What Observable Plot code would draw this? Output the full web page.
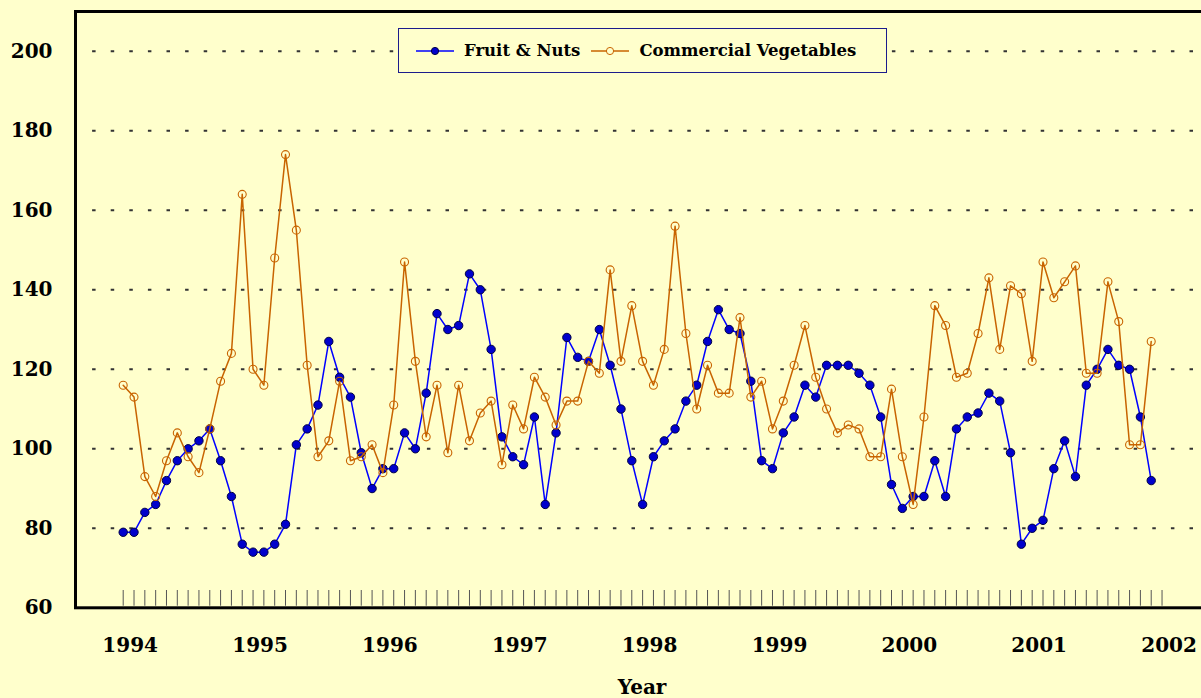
<!DOCTYPE html>
<html>
<head>
<meta charset="utf-8">
<script src="https://cdn.jsdelivr.net/npm/d3@7"></script>
<script src="https://cdn.jsdelivr.net/npm/@observablehq/plot@0.6"></script>
<style>
  html, body { margin: 0; padding: 0; background: #FFFFCC; }
  #wrap { position: relative; width: 1201px; height: 698px; overflow: hidden; }
  #legend {
    position: absolute; left: 398px; top: 28px; width: 489px; height: 45px;
    box-sizing: border-box; border: 1.5px solid #1c1c8c; background: #FFFFCC;
    display: flex; align-items: center; padding-left: 17px;
    font-family: "DejaVu Serif", serif; font-weight: bold; font-size: 16.5px; color: #000;
  }
  #legend svg { display: block; }
  #legend .sw { margin-right: 10px; }
  #legend .lab { margin-right: 11px; white-space: nowrap; }
</style>
</head>
<body>
<div id="wrap">
  <div id="chart"></div>
  <div id="legend">
    <svg class="sw" width="38" height="12"><line x1="0" y1="6" x2="38" y2="6" stroke="#0000FF" stroke-width="1.5"/><circle cx="19" cy="6" r="3.6" fill="#0000CC" stroke="#000044" stroke-width="1"/></svg>
    <span class="lab">Fruit &amp; Nuts</span>
    <svg class="sw" width="38" height="12"><line x1="0" y1="6" x2="38" y2="6" stroke="#C86400" stroke-width="1.5"/><circle cx="19" cy="6" r="3.6" fill="#FFFFCC" stroke="#C86400" stroke-width="1"/></svg>
    <span class="lab">Commercial Vegetables</span>
  </div>
</div>
<script>
// ---- data (monthly, Jan 1994 .. Dec 2001) ----
const years = [1994, 1995, 1996, 1997, 1998, 1999, 2000, 2001];
const yearLabels = [1994, 1995, 1996, 1997, 1998, 1999, 2000, 2001, 2002];
const yTicks = [60, 80, 100, 120, 140, 160, 180, 200];
const gridTicks = [80, 100, 120, 140, 160, 180, 200];

const fruitNuts = [
  79, 79, 84, 86, 92, 97, 100, 102, 105, 97, 88, 76,
  74, 74, 76, 81, 101, 105, 111, 127, 118, 113, 99, 90,
  95, 95, 104, 100, 114, 134, 130, 131, 144, 140, 125, 103,
  98, 96, 108, 86, 104, 128, 123, 122, 130, 121, 110, 97,
  86, 98, 102, 105, 112, 116, 127, 135, 130, 129, 117, 97,
  95, 104, 108, 116, 113, 121, 121, 121, 119, 116, 108, 91,
  85, 88, 88, 97, 88, 105, 108, 109, 114, 112, 99, 76,
  80, 82, 95, 102, 93, 116, 120, 125, 121, 120, 108, 92
];
const commercialVegetables = [
  116, 113, 93, 88, 97, 104, 98, 94, 105, 117, 124, 164,
  120, 116, 148, 174, 155, 121, 98, 102, 117, 97, 98, 101,
  94, 111, 147, 122, 103, 116, 99, 116, 102, 109, 112, 96,
  111, 105, 118, 113, 106, 112, 112, 122, 119, 145, 122, 136,
  122, 116, 125, 156, 129, 110, 121, 114, 114, 133, 113, 117,
  105, 112, 121, 131, 118, 110, 104, 106, 105, 98, 98, 115,
  98, 86, 108, 136, 131, 118, 119, 129, 143, 125, 141, 139,
  122, 147, 138, 142, 146, 119, 119, 142, 132, 101, 101, 127
];

// month positions as decimal years
const toRows = (vals) => vals.map((v, i) => ({t: years[0] + i / 12, v}));
const fruitRows = toRows(fruitNuts);
const vegRows = toRows(commercialVegetables);
const monthTicks = d3.range(0, years.length * 12 + 1).map(i => years[0] + i / 12);

const font = '"DejaVu Serif", serif';

const chart = Plot.plot({
  width: 1201,
  height: 698,
  marginLeft: 75,
  marginRight: -3,
  marginTop: 11,
  marginBottom: 90.7,
  style: {background: "#FFFFCC", fontFamily: font, color: "#000", overflow: "hidden"},
  x: {domain: [1993.6327, 2002.327], label: null},
  y: {domain: [60, 210], label: null},
  marks: [
    Plot.ruleY(gridTicks, {stroke: "#333", strokeWidth: 2, strokeDasharray: "3.5,15.1", strokeDashoffset: 1.5}),
    Plot.ruleX(monthTicks, {y1: 60.4, y2: 64.35, stroke: "#555", strokeWidth: 1}),
    Plot.frame({stroke: "#000", strokeWidth: 3}),
    Plot.axisY(yTicks, {tickSize: 0, tickPadding: 23, fontSize: 20, fontWeight: "bold", fill: "#000", label: null}),
    Plot.axisX(yearLabels, {tickSize: 0, tickPadding: 30, dx: 7, fontSize: 20, fontWeight: "bold", fill: "#000", tickFormat: d => String(d), label: null}),
    Plot.text(["Year"], {frameAnchor: "bottom", dx: 2, dy: 80, fontSize: 20, fontWeight: "bold", fill: "#000", lineAnchor: "middle"}),
    Plot.line(fruitRows, {x: "t", y: "v", stroke: "#0000FF", strokeWidth: 1.5}),
    Plot.dot(fruitRows, {x: "t", y: "v", r: 4.2, fill: "#0000CC", stroke: "#000044", strokeWidth: 1}),
    Plot.line(vegRows, {x: "t", y: "v", stroke: "#C86400", strokeWidth: 1.5}),
    Plot.dot(vegRows, {x: "t", y: "v", r: 4, fill: "none", stroke: "#C86400", strokeWidth: 1.1})
  ]
});
document.getElementById("chart").appendChild(chart);
</script>
</body>
</html>
